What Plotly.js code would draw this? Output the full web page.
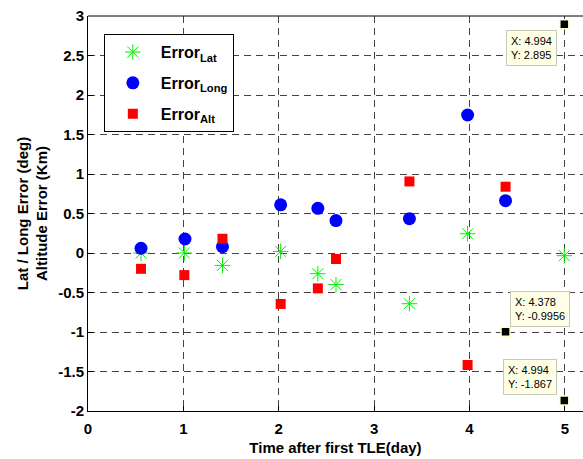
<!DOCTYPE html>
<html><head><meta charset="utf-8">
<script src="https://cdn.plot.ly/plotly-3.0.1.min.js"></script>
<style>body{margin:0;background:#fff}#plot{width:583px;height:459px}</style>
</head><body><div id="plot"></div>
<script>
const latX = [0.556, 1.01, 1.41, 2.02, 2.41, 2.6, 3.37, 3.98, 4.994];
const latY = [0.0, 0.0, -0.157, 0.02, -0.262, -0.40, -0.642, 0.244, -0.034];
const longX = [0.556, 1.017, 1.41, 2.02, 2.41, 2.6, 3.37, 3.98, 4.378];
const longY = [0.06, 0.177, 0.08, 0.61, 0.565, 0.41, 0.434, 1.747, 0.662];
const altX = [0.556, 1.01, 1.41, 2.02, 2.41, 2.6, 3.37, 3.98, 4.378];
const altY = [-0.20, -0.28, 0.18, -0.645, -0.448, -0.076, 0.906, -1.418, 0.839];
const tipX = [4.994, 4.378, 4.994];
const tipY = [2.895, -0.9956, -1.867];
const xTicks = [0, 1, 2, 3, 4, 5];
const yTicks = [-2, -1.5, -1, -0.5, 0, 0.5, 1, 1.5, 2, 2.5, 3];
const yTickText = ['-2', '-1.5', '-1', '-0.5', '0', '0.5', '1', '1.5', '2', '2.5', '3'];

const bold = {family: 'Liberation Sans, Arial, sans-serif', size: 15, color: '#000'};
const legFont = {family: 'Liberation Sans, Arial, sans-serif', size: 16, color: '#000'};
const traces = [
  {x: latX, y: latY, mode: 'markers', type: 'scatter', name: '<b>Error<sub>Lat</sub></b>', legendgroup: 'a',
   marker: {symbol: 'asterisk-open', size: 13, color: '#00f000', line: {color: '#00f000', width: 1}}},
  {x: longX, y: longY, mode: 'markers', type: 'scatter', name: '<b>Error<sub>Long</sub></b>', legendgroup: 'b',
   marker: {symbol: 'circle', size: 13, color: '#0000ff'}},
  {x: altX, y: altY, mode: 'markers', type: 'scatter', name: '<b>Error<sub>Alt</sub></b>', legendgroup: 'c',
   marker: {symbol: 'square', size: 10, color: '#ff0000'}},
  {x: tipX, y: tipY, mode: 'markers', type: 'scatter', showlegend: false,
   marker: {symbol: 'square', size: 9, color: '#000', line: {color: '#ffffcc', width: 1.5}}}
];
const shifts = [
  {xanchor: 'right', yanchor: 'top', xshift: -7, yshift: -6},
  {xanchor: 'left', yanchor: 'bottom', xshift: 4, yshift: 5},
  {xanchor: 'right', yanchor: 'bottom', xshift: -7, yshift: 5}
];
const annotations = tipX.map((x, i) => Object.assign({
  x: x, y: tipY[i], xref: 'x', yref: 'y', showarrow: false, align: 'left',
  text: 'X: ' + x + '<br>Y: ' + tipY[i],
  font: {family: 'Liberation Sans, Arial, sans-serif', size: 11, color: '#000'},
  bgcolor: '#ffffe6', bordercolor: '#c8c8b8', borderwidth: 1, borderpad: 4
}, shifts[i]));

const layout = {
  width: 583, height: 459,
  margin: {l: 88, r: 0, t: 16, b: 48},
  paper_bgcolor: '#fff', plot_bgcolor: '#fff',
  font: bold,
  showlegend: true,
  legend: {x: 0.032, y: 0.954, xanchor: 'left', yanchor: 'top', bgcolor: '#fff',
           bordercolor: '#000', borderwidth: 1, font: legFont, tracegroupgap: 7,
           itemwidth: 46},
  xaxis: {range: [0, 5.19], tickvals: xTicks, ticktext: xTicks.map(t => '<b>' + t + '</b>'),
          ticks: 'inside', ticklen: 5, tickcolor: '#000', showline: true, linecolor: '#000', linewidth: 1,
          showgrid: true, gridcolor: '#444', griddash: '7px,5px', gridwidth: 1, zeroline: false,
          tickfont: bold, ticklabelstandoff: 4,
          title: {text: '<b>Time after first TLE(day)</b>', font: bold, standoff: 6}},
  yaxis: {range: [-2, 3], tickvals: yTicks, ticktext: yTickText.map(t => '<b>' + t + '</b>'),
          ticks: 'inside', ticklen: 5, tickcolor: '#000', showline: true, linecolor: '#000', linewidth: 1,
          showgrid: true, gridcolor: '#444', griddash: '7px,5px', gridwidth: 1, zeroline: false,
          tickfont: bold,
          title: {text: '<b>Lat / Long Error (deg)<br>Altitude Error (Km)</b>', font: bold, standoff: 6}},
  shapes: [{type: 'line', xref: 'paper', yref: 'paper', x0: 0, x1: 1, y0: 1, y1: 1,
            line: {color: '#000', width: 1}}],
  annotations: annotations
};
Plotly.newPlot('plot', traces, layout, {displayModeBar: false, staticPlot: true});
</script></body></html>
